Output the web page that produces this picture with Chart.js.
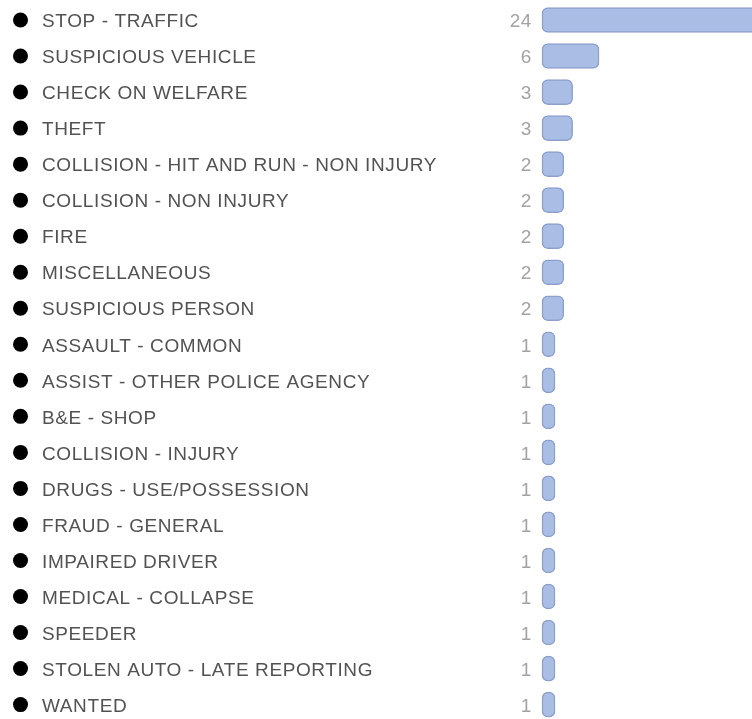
<!DOCTYPE html>
<html>
<head>
<meta charset="utf-8">
<script src="https://cdn.jsdelivr.net/npm/chart.js@4/dist/chart.umd.min.js"></script>
<style>
  html, body { margin: 0; padding: 0; background: #fff; }
  #wrap { width: 752px; height: 719px; position: relative; }
</style>
</head>
<body>
<div id="wrap"><canvas id="graph"></canvas></div>
<script>
const categories = [
  'STOP - TRAFFIC', 'SUSPICIOUS VEHICLE', 'CHECK ON WELFARE', 'THEFT',
  'COLLISION - HIT AND RUN - NON INJURY', 'COLLISION - NON INJURY', 'FIRE',
  'MISCELLANEOUS', 'SUSPICIOUS PERSON', 'ASSAULT - COMMON',
  'ASSIST - OTHER POLICE AGENCY', 'B&E - SHOP', 'COLLISION - INJURY',
  'DRUGS - USE/POSSESSION', 'FRAUD - GENERAL', 'IMPAIRED DRIVER',
  'MEDICAL - COLLAPSE', 'SPEEDER', 'STOLEN AUTO - LATE REPORTING', 'WANTED'
];
const counts = [24, 6, 3, 3, 2, 2, 2, 2, 2, 1, 1, 1, 1, 1, 1, 1, 1, 1, 1, 1];

const FONT = "'Liberation Sans', Arial, sans-serif";

// the original text is a bit wider than Liberation Sans, so open it up a little
const spacing = {
  id: 'spacing',
  beforeDraw(chart) { chart.ctx.letterSpacing = '0.6px'; }
};

// bullets on the left and the counts next to the bars
const rowDecor = {
  id: 'rowDecor',
  afterDraw(chart) {
    const ctx = chart.ctx;
    const y = chart.scales.y;
    ctx.save();
    ctx.font = '19px ' + FONT;
    ctx.textAlign = 'right';
    ctx.textBaseline = 'middle';
    for (let i = 0; i < categories.length; i++) {
      const py = y.getPixelForTick(i);
      ctx.fillStyle = '#000';
      ctx.beginPath();
      ctx.arc(20.5, py, 7.5, 0, Math.PI * 2);
      ctx.fill();
      ctx.fillStyle = '#a3a3a3';
      ctx.fillText(String(counts[i]), 532, py + 2);
    }
    ctx.restore();
  }
};

const config = {
  type: 'bar',
  data: {
    labels: categories,
    datasets: [{
      data: counts,
      base: -0.48,
      backgroundColor: 'rgb(170, 189, 229)',
      borderColor: 'rgb(141, 160, 204)',
      borderWidth: 1.5,
      borderRadius: 6,
      borderSkipped: false,
      barThickness: 25,
      clip: {left: false, top: false, right: 0, bottom: false}
    }]
  },
  options: {
    indexAxis: 'y',
    responsive: true,
    maintainAspectRatio: false,
    animation: false,
    layout: { padding: { left: 42, right: 0, top: 20, bottom: 14 } },
    plugins: { legend: { display: false }, tooltip: { enabled: false } },
    scales: {
      x: {
        display: false,
        min: -0.48,
        max: 23.38
      },
      y: {
        offset: false,
        grid: { display: false },
        border: { display: false },
        afterFit(scale) { scale.width = 500; },
        ticks: {
          autoSkip: false,
          crossAlign: 'far',
          labelOffset: 2,
          color: '#525252',
          font: { family: FONT, size: 19 }
        }
      }
    }
  },
  plugins: [spacing, rowDecor]
};

new Chart(document.getElementById('graph'), config);
</script>
</body>
</html>
